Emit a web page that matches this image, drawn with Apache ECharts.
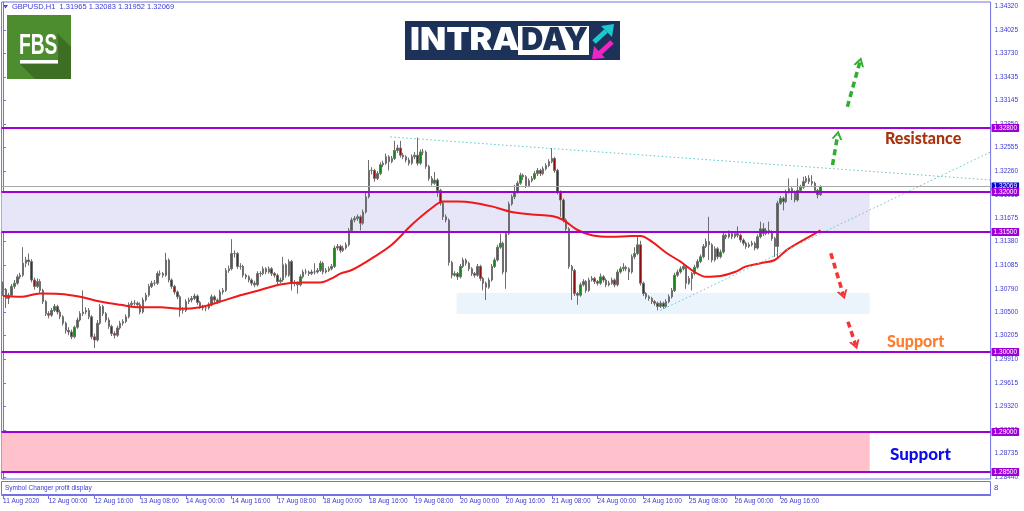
<!DOCTYPE html>
<html><head><meta charset="utf-8">
<script src="https://cdn.jsdelivr.net/npm/echarts@6/dist/echarts.min.js"></script>
<style>html,body{margin:0;padding:0;background:#fff}#c{width:1024px;height:511px}</style>
</head><body><div id="c"></div>
<script>
// ---- DATA (prices stored as pips above 1.30000) ----
const symbolHeader = 'GBPUSD,H1  1.31965 1.32083 1.31952 1.32069';
const tickLabels = ['11 Aug 2020','12 Aug 00:00','12 Aug 16:00','13 Aug 08:00','14 Aug 00:00','14 Aug 16:00','17 Aug 08:00','18 Aug 00:00','18 Aug 16:00','19 Aug 08:00','20 Aug 00:00','20 Aug 16:00','21 Aug 08:00','24 Aug 00:00','24 Aug 16:00','25 Aug 08:00','26 Aug 00:00','26 Aug 16:00'];
const priceTicks = [1.34320,1.34025,1.33730,1.33435,1.33145,1.32850,1.32555,1.32260,1.31965,1.31675,1.31380,1.31085,1.30790,1.30500,1.30205,1.29910,1.29615,1.29320,1.29025,1.28735,1.28440];
const levels = [1.32800,1.32000,1.31500,1.30000,1.29000,1.28500];
const lastPrice = 1.32069;
// [open, close, low, high] in pips above 1.30000, H1 bars from 11 Aug 08:00
const candleRows = [
[84,78,70,88],[78,67,55,80],[67,71,60,74],[71,82,69,85],[82,86,79,90],[86,94,84,97],[94,96,91,99],[96,111,94,131],[111,115,106,119],[115,113,108,123],
[113,90,87,116],[90,82,78,93],[82,88,80,92],[88,77,74,91],[77,63,60,79],[63,48,45,65],[48,46,42,51],[46,52,44,55],[52,57,50,60],[57,50,47,59],
[50,44,41,53],[44,36,33,46],[36,27,23,38],[27,25,21,31],[25,19,16,28],[19,31,17,33],[31,40,29,43],[40,48,38,51],[48,50,45,77],[50,52,47,56],
[52,44,41,55],[44,19,16,46],[19,15,5,23],[15,36,13,40],[36,57,34,60],[57,48,45,59],[48,40,37,50],[40,32,29,43],[32,23,20,34],[23,21,17,26],
[21,30,19,33],[30,36,28,39],[36,38,33,41],[38,44,36,47],[44,59,42,62],[59,61,56,64],[61,61,58,65],[61,59,56,63],[59,50,47,62],[50,65,48,68],
[65,71,63,74],[71,82,69,85],[82,86,80,89],[86,86,83,90],[86,98,84,101],[98,98,95,102],[98,96,93,100],[96,115,94,124],[115,90,87,117],[90,82,79,92],
[82,75,72,84],[75,69,66,77],[69,52,44,71],[52,52,48,56],[52,63,50,66],[63,65,60,68],[65,67,62,70],[67,70,65,73],[70,62,59,72],[62,57,54,64],
[57,55,52,59],[55,55,51,58],[55,59,53,62],[59,69,57,72],[69,65,62,71],[65,63,60,67],[63,75,61,78],[75,77,72,80],[77,102,75,105],[102,104,99,108],
[104,123,102,141],[123,123,118,127],[123,107,104,125],[107,107,103,111],[107,96,93,109],[96,94,91,98],[94,90,87,96],[90,86,83,92],[86,84,81,89],[84,98,82,101],
[98,98,94,101],[98,104,96,107],[104,100,97,106],[100,104,98,107],[104,98,95,106],[98,96,93,100],[96,88,85,98],[88,90,86,93],[90,109,88,119],[109,96,93,111],
[96,113,94,116],[113,86,77,115],[86,86,82,90],[86,84,73,88],[84,94,82,97],[94,100,92,103],[100,100,97,104],[100,98,95,102],[98,100,96,103],[100,100,97,111],
[100,102,98,105],[102,111,100,114],[111,100,97,113],[100,102,98,105],[102,104,100,107],[104,107,102,110],[107,130,105,133],[130,132,127,135],[132,127,124,134],[127,130,125,133],
[130,134,128,137],[134,152,132,155],[152,165,150,168],[165,167,162,170],[167,169,164,172],[169,161,152,171],[161,175,159,178],[175,194,173,200],[194,227,192,240],[227,227,222,231],
[227,217,213,229],[217,223,215,226],[223,234,221,237],[234,236,231,239],[236,244,234,248],[244,238,227,246],[238,242,236,245],[242,252,240,264],[252,255,249,259],[255,246,243,264],
[246,244,241,249],[244,240,237,246],[240,236,233,243],[236,244,234,247],[244,246,241,250],[246,236,233,268],[236,250,234,253],[250,250,246,254],[250,232,229,252],[232,217,214,234],
[217,211,208,220],[211,215,209,225],[215,202,194,217],[202,186,183,204],[186,169,165,189],[169,165,162,172],[165,112,108,167],[112,96,92,114],[96,98,94,101],[98,94,90,100],
[94,107,92,110],[107,115,105,118],[115,111,108,117],[111,104,101,113],[104,98,95,106],[98,96,93,100],[96,107,94,110],[107,92,89,109],[92,86,77,94],[86,81,65,88],
[81,90,79,93],[90,107,88,110],[107,115,105,118],[115,131,113,134],[131,136,129,148],[136,100,97,138],[100,148,79,151],[148,185,146,188],[185,194,183,197],[194,200,191,209],
[200,211,198,214],[211,221,209,224],[221,219,215,223],[219,208,205,221],[208,214,206,217],[214,217,212,220],[217,223,215,226],[223,227,220,230],[227,223,220,229],[223,229,221,232],
[229,233,227,236],[233,238,231,241],[238,242,236,255],[242,227,224,244],[227,200,197,229],[200,190,169,202],[190,165,162,192],[165,154,151,167],[154,107,104,156],[107,102,65,109],
[102,73,70,104],[73,71,59,75],[71,84,69,87],[84,88,82,91],[88,77,74,90],[77,90,75,93],[90,92,88,95],[92,88,85,94],[88,86,83,90],[86,94,84,98],
[94,90,87,96],[90,84,81,92],[84,86,82,89],[86,90,84,93],[90,84,81,92],[84,100,82,103],[100,104,98,107],[104,106,101,111],[106,104,101,108],[104,100,90,106],
[100,119,98,122],[119,123,116,131],[123,134,121,146],[134,86,83,139],[86,73,70,88],[73,69,66,75],[69,67,64,71],[67,63,60,69],[63,61,58,65],[61,57,52,63],
[57,61,55,64],[61,57,54,63],[57,63,55,66],[63,69,61,72],[69,77,67,80],[77,96,75,99],[96,100,94,103],[100,104,98,107],[104,107,102,110],[107,86,79,109],
[86,92,84,95],[92,98,77,100],[98,106,96,109],[106,113,104,116],[113,119,111,122],[119,132,117,135],[132,138,130,142],[138,134,115,169],[134,115,112,136],[115,129,113,132],
[129,119,116,131],[119,125,117,128],[125,146,123,150],[146,144,141,148],[144,148,142,152],[148,144,141,150],[144,148,142,151],[148,146,143,157],[146,140,137,148],[140,136,133,142],
[136,132,129,138],[132,134,130,137],[134,136,132,139],[136,130,127,138],[130,144,128,147],[144,154,142,163],[154,148,145,161],[148,152,146,155],[152,150,147,163],[150,142,139,152],
[142,132,119,144],[132,186,117,189],[186,192,184,195],[192,188,177,194],[188,200,186,203],[200,204,198,217],[204,200,190,206],[200,190,187,202],[190,202,188,217],[202,206,200,209],
[206,213,204,219],[213,217,211,220],[217,213,210,221],[213,211,208,221],[211,202,199,213],[202,196.5,192,204],[196.5,206.9,195.2,208.3]
];
// moving average: [bar index, pips]
const maPoints = [[0,70],[6,69],[13,73],[20,72.5],[27,69],[34,63],[41,59],[48,56],[55,56],[62,54],[69,56],[76,63],[83,71],[90,77.5],[97,84.5],[104,87],[111,87],[115,92],[118,98],[122,102.5],[129,117],[136,134],[143,159],[150,180],[154,188],[159,188],[164,187],[171,182],[178,175],[185,172],[192,170],[196,165],[201,152.5],[206,146],[213,144],[220,145],[223,145],[227,138],[232,124],[237,113],[242,100],[246,94],[251,95],[256,100],[260,107],[265,111],[270,115],[274,127],[279,138],[284,148],[286,152]];
// dotted trend lines [bar, pips]
const trendDown = [[135.5,268.75],[345.5,215]];
const trendUp = [[230,52],[345.5,250]];
// annotation arrows [[barFrom,pipsFrom],[barTo,pipsTo]]
const greenArrows = [[[290.2,233.75],[292,271.25]],[[295.4,306.6],[299.8,362.9]]];
const redArrows = [[[289.6,123.4],[294,71.25]],[[295.6,37.9],[298.3,8.75]]];
// zones [[barFrom,pipsFrom],[barTo,pipsTo]]
const zoneLavender = [[-0.5,200],[303.2,150]];
const zoneBlue = [[158.7,73.75],[303.2,47.5]];
const zonePink = [[-0.5,-100],[303.2,-150]];
const TOTAL_SLOTS = 346;

// ---- build ----
const P = p => +(1.3 + p / 10000).toFixed(5);
const categories = [];
{
  let t = Date.UTC(2020, 7, 11, 8);
  while (categories.length < TOTAL_SLOTS) {
    const d = new Date(t);
    const wd = d.getUTCDay();
    if (wd !== 0 && wd !== 6) categories.push(d.toISOString().slice(0, 16));
    t += 3600000;
  }
}
const candles = candleRows.map(r => r.map(P));
const FRAME = '#7272E4', TXT = '#3A3AD2', PURPLE = '#A000D8';
const tickIdx = i => i % 16 === 0 && i / 16 < tickLabels.length;
const chevron = 'path://M0,10 L5,0 L10,10 L8,10 L5,4 L2,10 Z';
function arrowLines(list) {
  return list.map(([a, b]) => [
    { coord: [a[0], P(a[1])], symbol: 'none' },
    { coord: [b[0], P(b[1])], symbol: chevron, symbolSize: [11, 9] }
  ]);
}
const chart = echarts.init(document.getElementById('c'), null, { renderer: 'canvas' });
chart.setOption({
  animation: false,
  backgroundColor: '#ffffff',
  grid: { left: 1, right: 33.4, top: 2, bottom: 32, show: true, borderColor: FRAME, borderWidth: 1, backgroundColor: 'transparent' },
  xAxis: [{
    type: 'category', data: categories, boundaryGap: true, offset: 16,
    axisLine: { show: true, lineStyle: { color: FRAME, width: 1 } },
    axisTick: { show: true, interval: tickIdx, alignWithLabel: true, length: 4, lineStyle: { color: FRAME } },
    axisLabel: { interval: tickIdx, formatter: (v, i) => tickLabels[i / 16] || '', align: 'left', margin: 3, fontSize: 6.5, color: TXT, fontFamily: 'Liberation Sans' },
    splitLine: { show: false }
  }, {
    type: 'value', min: -0.5, max: TOTAL_SLOTS - 0.5, show: false
  }],
  yAxis: {
    type: 'value', position: 'right', min: 1.284125, max: 1.34375, scale: true,
    axisLine: { show: true, lineStyle: { color: FRAME } },
    axisTick: { show: true, customValues: priceTicks, length: 3, lineStyle: { color: FRAME } },
    axisLabel: { customValues: priceTicks, formatter: v => v.toFixed(5), margin: 4, fontSize: 6.5, color: TXT, fontFamily: 'Liberation Sans' },
    splitLine: { show: false }
  },
  series: [
    { type: 'line', xAxisIndex: 1, data: [], z: 1, silent: true,
      markArea: { silent: true, data: [
        [{ coord: [zoneLavender[0][0], P(zoneLavender[0][1])], itemStyle: { color: '#E6E6F8' } }, { coord: [zoneLavender[1][0], P(zoneLavender[1][1])] }],
        [{ coord: [zoneBlue[0][0], P(zoneBlue[0][1])], itemStyle: { color: '#EBF4FD' } }, { coord: [zoneBlue[1][0], P(zoneBlue[1][1])] }],
        [{ coord: [zonePink[0][0], P(zonePink[0][1])], itemStyle: { color: '#FFC2CD' } }, { coord: [zonePink[1][0], P(zonePink[1][1])] }]
      ] } },
    { type: 'line', xAxisIndex: 1, data: [], z: 2, silent: true,
      markLine: { silent: true, symbol: 'none', animation: false, precision: 5, label: { show: false },
        lineStyle: { color: '#5EC6CC', type: [1.5, 2.5], width: 1 },
        data: [
          [{ coord: [trendDown[0][0], P(trendDown[0][1])] }, { coord: [trendDown[1][0], P(trendDown[1][1])] }],
          [{ coord: [trendUp[0][0], P(trendUp[0][1])] }, { coord: [trendUp[1][0], P(trendUp[1][1])] }]
        ] } },
    { type: 'candlestick', name: 'GBPUSD', data: candles, z: 3, barWidth: 2,
      itemStyle: { color: '#138A13', color0: '#8B1010', borderColor: '#6E6E6E', borderColor0: '#6E6E6E', borderWidth: 1 } },
    { type: 'line', name: 'MA', xAxisIndex: 1, data: maPoints.map(([i, p]) => [i, P(p)]), smooth: 0.35, symbol: 'none', z: 4,
      lineStyle: { color: '#F01818', width: 2 } },
    { type: 'line', xAxisIndex: 1, data: [], z: 5, silent: true,
      markLine: { silent: true, symbol: 'none', animation: false, precision: 5,
        label: { show: true, position: 'end', distance: 1, formatter: p => Number(p.value).toFixed(5), color: '#fff', backgroundColor: PURPLE, fontSize: 6.5, fontFamily: 'Liberation Sans', padding: [1, 2, 0, 2] },
        lineStyle: { color: PURPLE, width: 2, type: 'solid' },
        data: [
          { yAxis: lastPrice, lineStyle: { color: '#A8A8A8', width: 1 }, label: { backgroundColor: '#0A0ACC' } },
          ...levels.map(v => ({ yAxis: v }))
        ] } },
    { type: 'line', xAxisIndex: 1, data: [], z: 6, silent: true,
      markLine: { silent: true, animation: false, precision: 5, label: { show: false },
        data: [
          ...arrowLines(greenArrows).map(d => { d[0].lineStyle = { color: '#2FAE2F', width: 3.5, type: [6, 4] }; d[1].itemStyle = { color: '#2FAE2F' }; return d; }),
          ...arrowLines(redArrows).map(d => { d[0].lineStyle = { color: '#F23535', width: 3.5, type: [6, 4] }; d[1].itemStyle = { color: '#F23535' }; return d; })
        ] } }
  ],
  graphic: [
    { type: 'polygon', shape: { points: [[3, 5], [8, 5], [5.5, 8.5]] }, style: { fill: TXT } },
    { type: 'text', left: 12, top: 3, style: { text: symbolHeader, fontSize: 7.5, fill: TXT, fontFamily: 'Liberation Sans' } },
    // FBS logo
    { type: 'rect', shape: { x: 7, y: 15, width: 64, height: 64 }, style: { fill: '#4E8D2F' } },
    { type: 'polygon', shape: { points: [[57, 33], [71, 47], [71, 79], [35, 79], [20, 64], [58, 64], [58, 40]] }, style: { fill: '#3C6E23' } },
    { type: 'text', x: 19, y: 31, scaleX: 0.64, style: { text: 'FBS', fontSize: 30, fontWeight: 'bold', fill: '#fff', fontFamily: 'Liberation Sans' } },
    { type: 'rect', shape: { x: 20, y: 60, width: 38, height: 3.5 }, style: { fill: '#fff' } },
    // INTRADAY logo
    { type: 'rect', shape: { x: 405, y: 21, width: 215, height: 39 }, style: { fill: '#1C3258' } },
    { type: 'text', x: 410, y: 25, scaleX: 1.1, style: { text: 'INTRA', fontSize: 31, fontWeight: 900, fill: '#fff', fontFamily: 'Inter' } },
    { type: 'rect', shape: { x: 518, y: 26, width: 71, height: 29 }, style: { fill: '#fff' } },
    { type: 'text', x: 521, y: 25, style: { text: 'DAY', fontSize: 31, fontWeight: 900, fill: '#1C3258', fontFamily: 'Inter' } },
    { type: 'line', shape: { x1: 594, y1: 42, x2: 606, y2: 31 }, style: { stroke: '#1CC8CE', lineWidth: 5 } },
    { type: 'polygon', shape: { points: [[601, 26], [614, 24], [612, 37]] }, style: { fill: '#1CC8CE' } },
    { type: 'line', shape: { x1: 612, y1: 42, x2: 600, y2: 53 }, style: { stroke: '#F022C8', lineWidth: 5 } },
    { type: 'polygon', shape: { points: [[605, 58], [592, 59], [594, 46]] }, style: { fill: '#F022C8' } },
    // annotation texts
    { type: 'text', x: 885, y: 131, style: { text: 'Resistance', fontSize: 16, fontWeight: 900, fill: '#A8330E', fontFamily: 'Lato' } },
    { type: 'text', x: 887, y: 334, style: { text: 'Support', fontSize: 16, fontWeight: 900, fill: '#FF7B2E', fontFamily: 'Lato' } },
    { type: 'text', x: 890, y: 446, style: { text: 'Support', fontSize: 17, fontWeight: 900, fill: '#0C0CE8', fontFamily: 'Lato' } },
    // sub-window
    { type: 'rect', shape: { x: 1.5, y: 481.5, width: 989, height: 13 }, style: { fill: 'none', stroke: FRAME, lineWidth: 1 } },
    { type: 'text', x: 5, y: 485, style: { text: 'Symbol Changer profit display', fontSize: 6.5, fill: TXT, fontFamily: 'Liberation Sans' } },
    { type: 'text', x: 994, y: 484, style: { text: '8', fontSize: 8, fill: TXT, fontFamily: 'Liberation Sans' } }
  ]
});
</script></body></html>
